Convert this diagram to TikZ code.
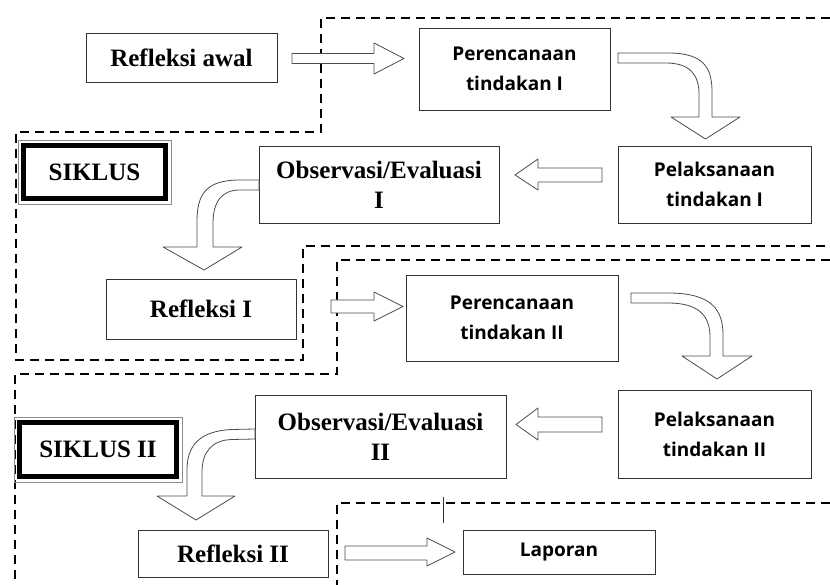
\documentclass[tikz,border=0pt]{standalone}
\usepackage{fontspec}
\setmainfont{Liberation Serif}
\newfontfamily\sansf{Open Sans}
\usepackage{tikz}
\usetikzlibrary{calc,positioning}
\newcommand\seriftext{\fontsize{25}{30}\selectfont\bfseries}
\newcommand\sanstext{\sansf\fontsize{19}{30}\selectfont\bfseries}
\tikzset{
    serifbox/.style={
    rectangle,draw=black!80,line width=0.8pt,inner sep=0pt,align=center,font=\seriftext
    },
    sansbox/.style={
    rectangle,draw=black!80,line width=0.8pt,inner sep=0pt,align=center,font=\sanstext
    },
    siklusbox/.style={
    rectangle,draw=black!45,line width=0.9pt,inner sep=0pt,font=\seriftext
    },
    cycleline/.style={
    draw=black,line width=1.8pt,dash pattern=on 9pt off 6pt
    },
    blockarrow/.style={
    draw=black!70,line width=0.8pt,fill=white,line join=round
    },
}
\begin{document}
\begin{tikzpicture}[x=1pt,y=-1pt]
  \useasboundingbox (0,0) rectangle (830,585);

  \draw[cycleline] (830,18) -- (321,18) -- (321,132) -- (16,132) -- (16,360) -- (303,360) -- (303,246) -- (830,246);
  \draw[cycleline] (830,260) -- (337,260) -- (337,374) -- (15,374) -- (15,585);
  \draw[cycleline] (830,503) -- (337,503) -- (337,585);
  \draw[black!80,line width=0.7pt] (443,497) -- (443,523);

  \node[serifbox,minimum width=191pt,minimum height=49pt] (rawal) at (181.5,57.5) {Refleksi awal};
  \node[sansbox,minimum width=191pt,minimum height=82pt] (rencI) at (514.5,69) {Perencanaan\\tindakan I};
  \node[sansbox,minimum width=193pt,minimum height=77pt] (laksI) at (714.5,184.5) {Pelaksanaan\\tindakan I};
  \node[serifbox,minimum width=240pt,minimum height=77pt] (obsI) at (379,184.5) {Observasi/Evaluasi\\I};
  \node[siklusbox,minimum width=153pt,minimum height=64pt] (sikI) at (94.5,172) {SIKLUS};
  \node[serifbox,minimum width=190pt,minimum height=60pt] (refI) at (201,309) {Refleksi I};
  \node[sansbox,minimum width=212pt,minimum height=86pt] (rencII) at (512,318) {Perencanaan\\tindakan II};
  \node[sansbox,minimum width=193pt,minimum height=88pt] (laksII) at (714.5,434) {Pelaksanaan\\tindakan II};
  \node[serifbox,minimum width=251pt,minimum height=83pt] (obsII) at (380.5,436.5) {Observasi/Evaluasi\\II};
  \node[siklusbox,minimum width=168pt,minimum height=65pt] (sikII) at (98,449.5) {SIKLUS II};
  \node[serifbox,minimum width=190pt,minimum height=47pt] (refII) at (233,553.5) {Refleksi II};
  \node[sansbox,minimum width=192pt,minimum height=44pt] (lap) at (559,552) {Laporan};

  \draw[line width=5pt] ($(sikI.north west)+(6,6)$) rectangle ($(sikI.south east)+(-6,-6)$);
  \draw[line width=5pt] ($(sikII.north west)+(6,6)$) rectangle ($(sikII.south east)+(-6,-6)$);

  \draw[blockarrow] (292,53.5) -- (374,53.5) -- (374,43) -- (404,58.5) -- (374,74) -- (374,63.5) -- (292,63.5) -- cycle;
  \draw[blockarrow] (618,53) -- (668,53) .. controls (704,53) and (712,68) .. (712,92) -- (712,117) -- (740,117)
    -- (705.5,139) -- (671,117) -- (699,117) -- (699,94) .. controls (699,75) and (690,63) .. (666,63) -- (618,63) -- cycle;
  \draw[blockarrow] (602,168) -- (538,168) -- (538,159) -- (515,175) -- (538,190) -- (538,182) -- (602,182) -- cycle;
  \draw[blockarrow] (259,180) -- (240,180) .. controls (205,180) and (197,195) .. (197,222) -- (197,247) -- (163,247)
    -- (204,270) -- (242,247) -- (213,247) -- (213,224) .. controls (213,201) and (222,190) .. (240,190) -- (259,190) -- cycle;
  \draw[blockarrow] (331,300) -- (374,300) -- (374,292) -- (403,306.5) -- (374,321) -- (374,313) -- (331,313) -- cycle;
  \draw[blockarrow] (631,293) -- (668,293) .. controls (712,293) and (723,310) .. (723,335) -- (723,356) -- (752,356)
    -- (717,379) -- (682,356) -- (710,356) -- (710,337) .. controls (710,315) and (698,303) .. (668,303) -- (631,303) -- cycle;
  \draw[blockarrow] (602,417) -- (538,417) -- (538,408) -- (516,424.5) -- (538,440) -- (538,432) -- (602,432) -- cycle;
  \draw[blockarrow] (255,429) -- (232,429.5) .. controls (197,431) and (187,448) .. (187,470) -- (187,496) -- (157,496)
    -- (196,520) -- (235,496) -- (202,496) -- (202,472) .. controls (202,452) and (212,440) .. (232,439.5) -- (255,439) -- cycle;
  \draw[blockarrow] (345,546) -- (427,546) -- (427,538) -- (455,552) -- (427,566) -- (427,560) -- (345,560) -- cycle;
\end{tikzpicture}
\end{document}
